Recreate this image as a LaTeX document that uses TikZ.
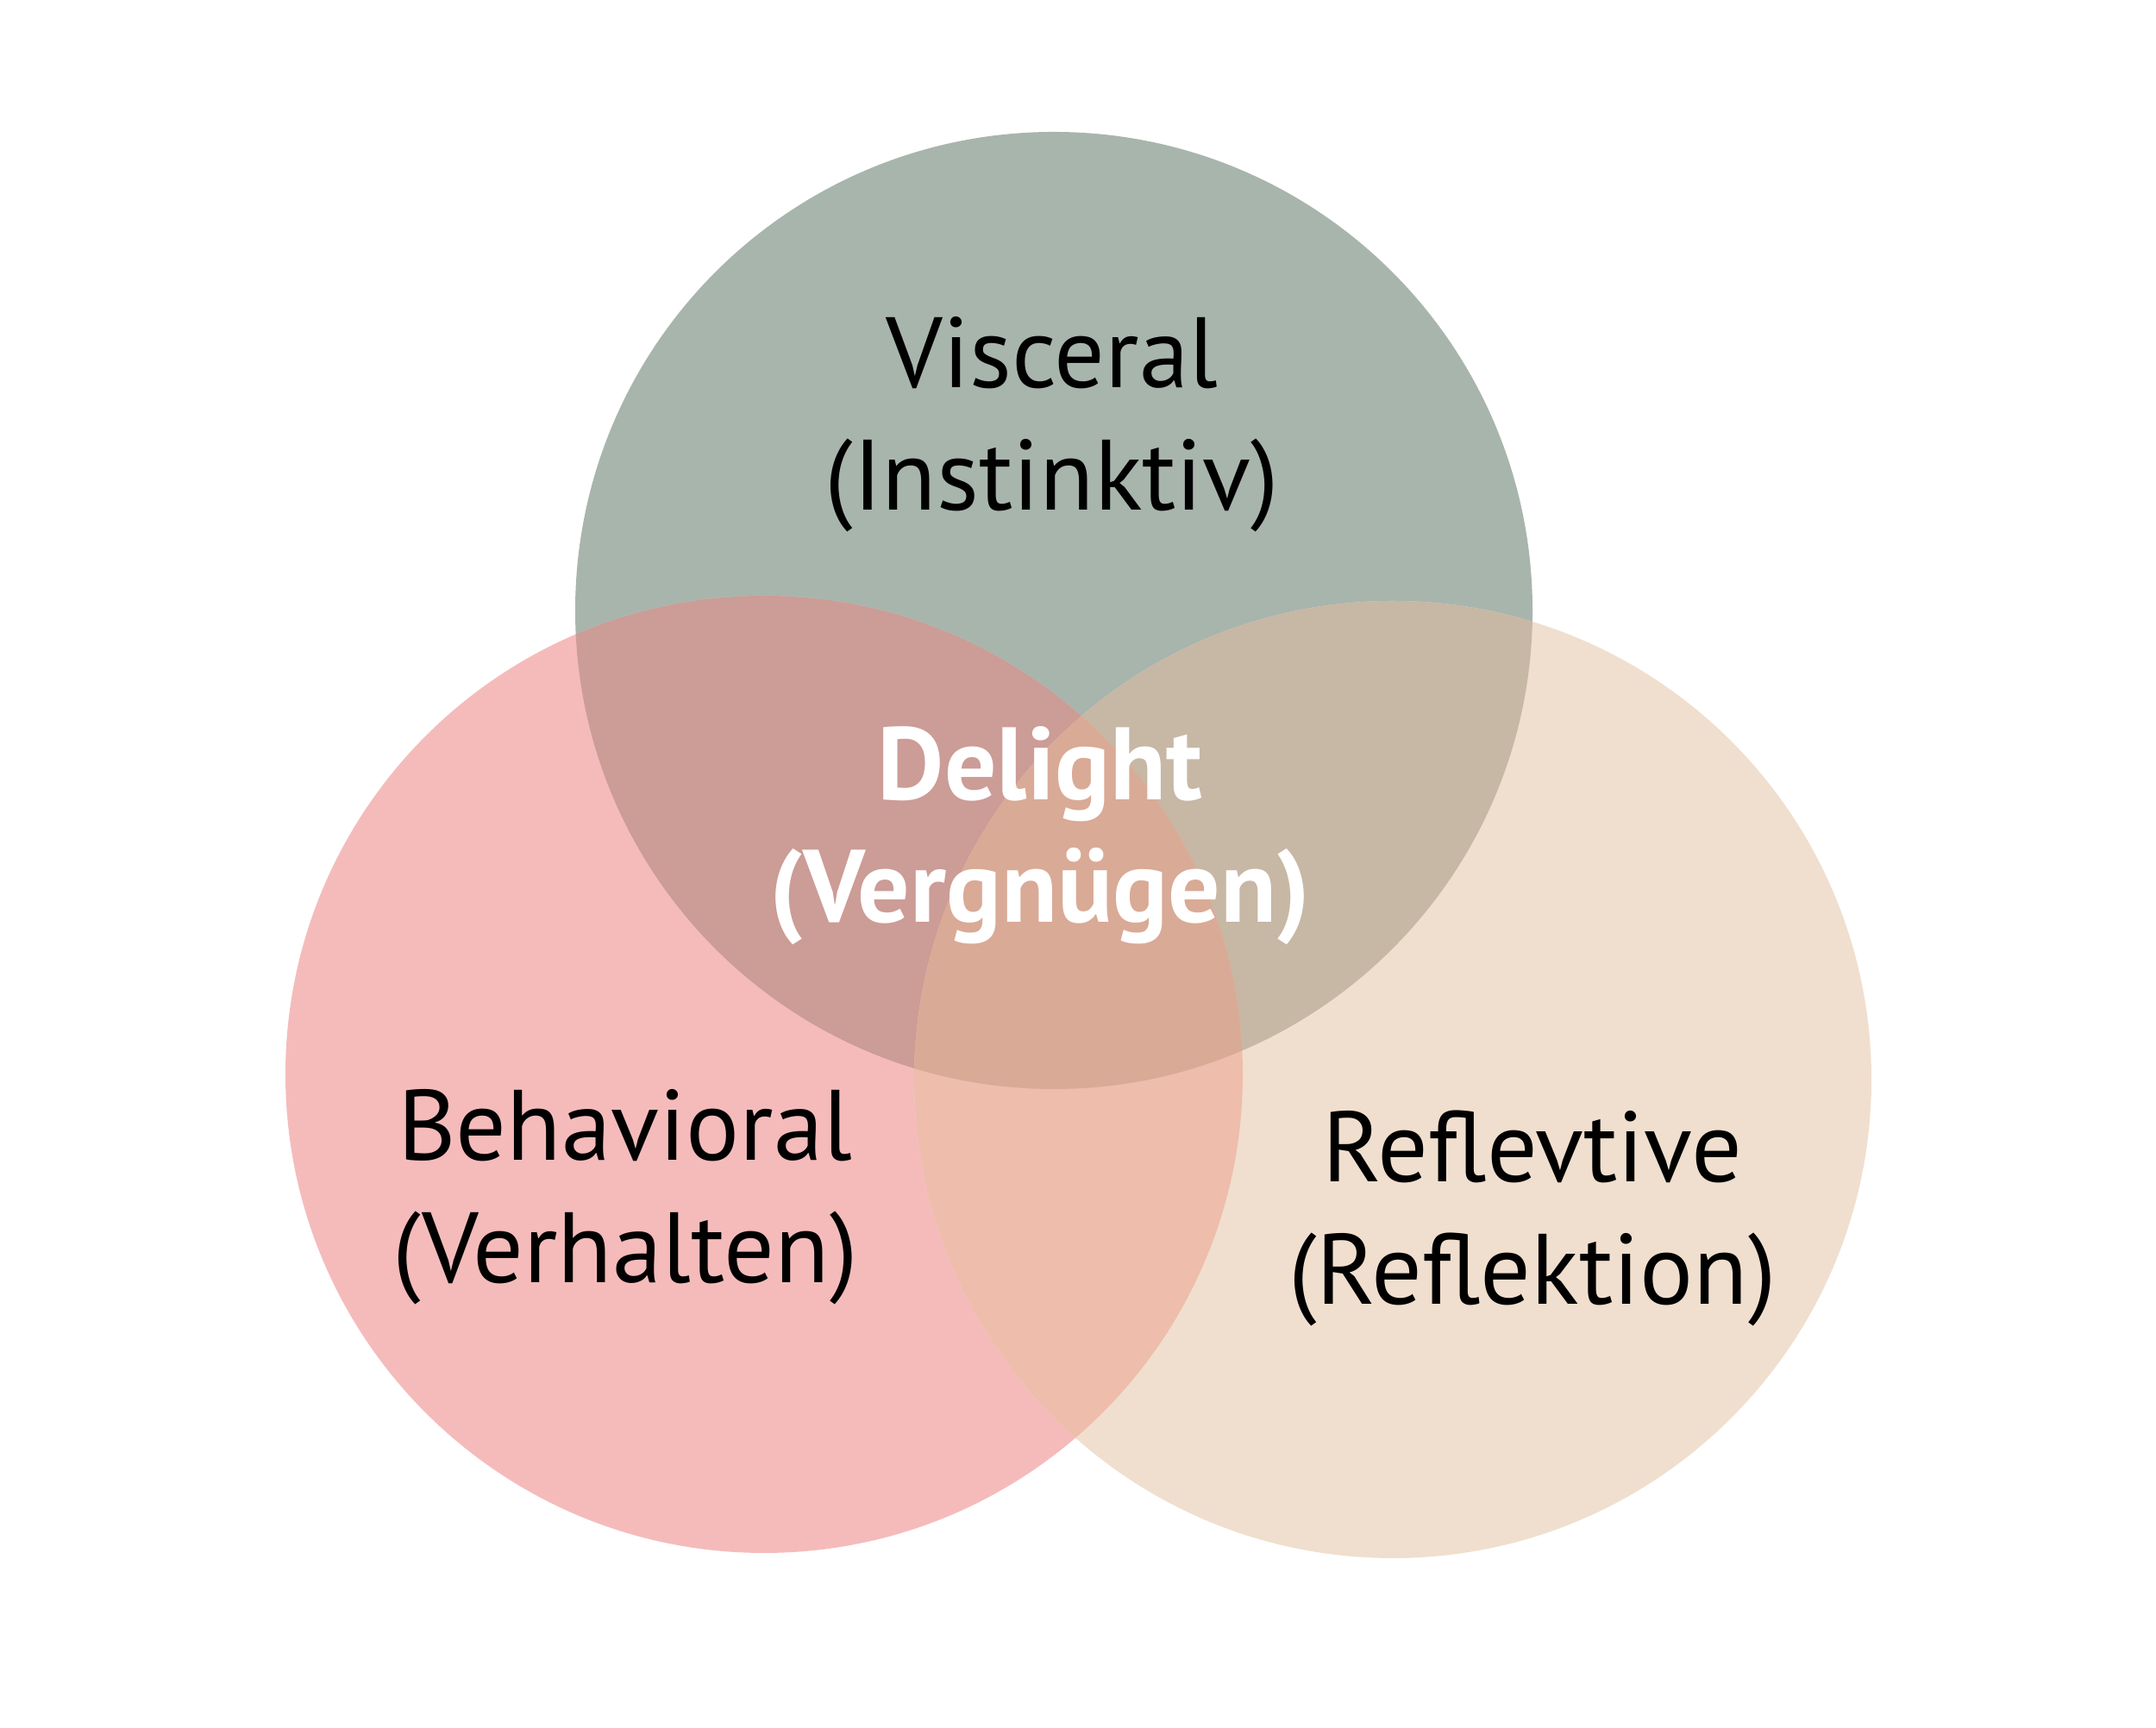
\documentclass[tikz,border=0pt]{standalone}
\usepackage{fontspec}
\setmainfont{PT Sans}
\usetikzlibrary{positioning}

\definecolor{visccol}{RGB}{168,181,172}
\definecolor{behavcol}{RGB}{245,187,187}
\definecolor{reflcol}{RGB}{240,223,206}
\definecolor{vbcol}{RGB}{204,156,150}
\definecolor{vrcol}{RGB}{199,183,165}
\definecolor{brcol}{RGB}{238,189,172}
\definecolor{allcol}{RGB}{217,170,150}

\begin{document}
\begin{tikzpicture}[blob/.style={circle, draw=none, minimum size=11.1cm, inner sep=0pt},
    label text/.style={align=center, anchor=base, font=\fontsize{33}{40.4}\selectfont},
    delight text/.style={align=center, anchor=base, text=white, font=\fontsize{34}{40.4}\selectfont\bfseries}]

    \useasboundingbox (0,0) rectangle (25,20.04);
    \fill[white] (0,0) rectangle (25,20.04);

    \node(visc)[blob, fill=visccol] at (12.22,12.96) {};
    \node(behav)[blob, fill=behavcol] at (8.86,7.58) {};
    \node(refl)[blob, fill=reflcol] at (16.15,7.52) {};

    % overlaps
    \begin{scope}
      \clip (visc.center) circle (5.55);
      \fill[vbcol] (behav.center) circle (5.55);
      \fill[vrcol] (refl.center) circle (5.55);
    \end{scope}
    \begin{scope}
      \clip (behav.center) circle (5.55);
      \fill[brcol] (refl.center) circle (5.55);
      \clip (visc.center) circle (5.55);
      \fill[allcol] (refl.center) circle (5.55);
    \end{scope}

    \node(visc-text)[label text] at (12.20,14.12) {Visceral\\(Instinktiv)};
    \node(behav-text)[label text] at (7.25,5.16) {Behavioral\\(Verhalten)};
    \node(refl-text)[label text] at (17.77,4.91) {Reflevtive\\(Reflektion)};
    \node(delight-text)[delight text] at (12.06,9.34) {Delight\\(Vergnügen)};
  \end{tikzpicture}
\end{document}
